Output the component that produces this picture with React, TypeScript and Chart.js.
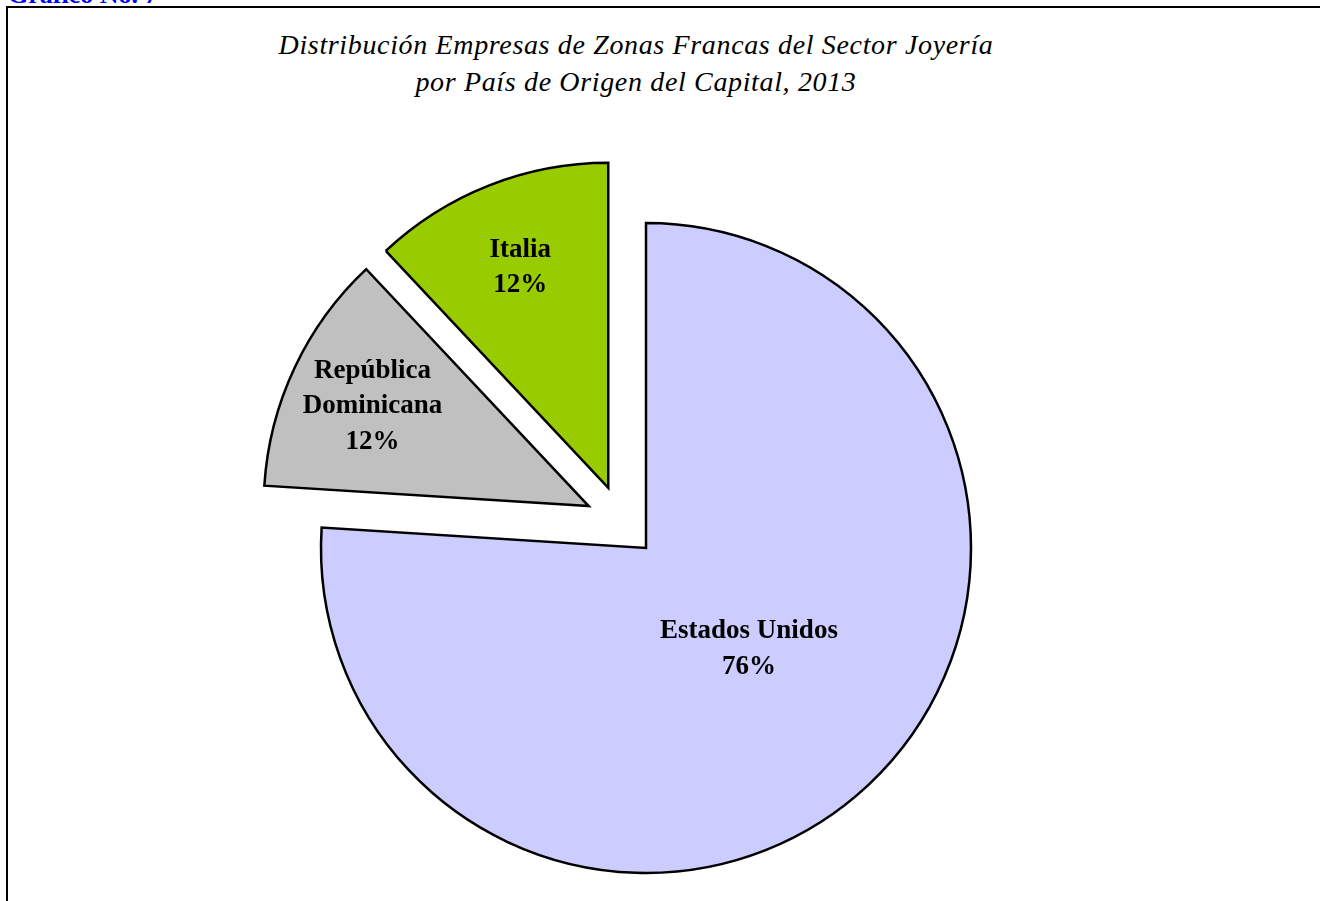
import React, { useEffect, useRef } from "react";
import { Chart, registerables } from "chart.js";

Chart.register(...registerables);

const CATEGORIES = ["Estados Unidos", "República\nDominicana", "Italia"];
const VALUES = [76, 12, 12];
const COLORS = ["#CCCCFF", "#C0C0C0", "#99CC00"];
const EXPLODE = [0, 71, 71];
const EXPLODE_SKEW_DEG = [0, 11, -10.5];
const TITLE_LINES = [
  "Distribución Empresas de Zonas Francas del Sector Joyería",
  "por País de Origen del Capital, 2013",
];
const CAPTION = "Gráfico No. 7";

const SERIF = '"Liberation Serif", "Times New Roman", serif';

const explodePlugin = {
  id: "explodeSlices",
  beforeDatasetsDraw(chart: any) {
    const ca = chart.chartArea;
    const cx = (ca.left + ca.right) / 2;
    const cy = (ca.top + ca.bottom) / 2;
    chart.data.datasets.forEach((ds: any, di: number) => {
      const meta = chart.getDatasetMeta(di);
      meta.data.forEach((arc: any, i: number) => {
        const d = (ds.explode && ds.explode[i]) || 0;
        const skew = (((ds.explodeSkew && ds.explodeSkew[i]) || 0) * Math.PI) / 180;
        const mid = (arc.startAngle + arc.endAngle) / 2 + skew;
        arc.x = cx + Math.cos(mid) * d;
        arc.y = cy + Math.sin(mid) * d;
      });
    });
  },
};

const labelPlugin = {
  id: "sliceLabels",
  afterDatasetsDraw(chart: any) {
    const ctx = chart.ctx;
    const ds = chart.data.datasets[0];
    const total = ds.data.reduce((a: number, b: number) => a + b, 0);
    const meta = chart.getDatasetMeta(0);
    const fontSize = 27;
    const lh = 35.5;
    ctx.save();
    ctx.font = `bold ${fontSize}px ${SERIF}`;
    ctx.fillStyle = "#000";
    ctx.textAlign = "center";
    ctx.textBaseline = "alphabetic";
    meta.data.forEach((arc: any, i: number) => {
      const circ = arc.endAngle - arc.startAngle;
      const big = circ > Math.PI;
      const frac = big ? 0.44 : 0.735;
      const mid = (arc.startAngle + arc.endAngle) / 2 - (big ? 0.05 : 0);
      const r = arc.outerRadius * frac;
      const x = arc.x + Math.cos(mid) * r;
      const y = arc.y + Math.sin(mid) * r;
      const pct = Math.round((ds.data[i] / total) * 100) + "%";
      const lines = String(chart.data.labels[i]).split("\n").concat([pct]);
      const n = lines.length;
      lines.forEach((t: string, k: number) => {
        const by = y + (k - (n - 1) / 2) * lh + fontSize * 0.33;
        ctx.fillText(t, x, by);
      });
    });
    ctx.restore();
  },
};

export default function App() {
  const ref = useRef<HTMLCanvasElement | null>(null);

  useEffect(() => {
    if (!ref.current) return;
    const chart = new Chart(ref.current, {
      type: "pie",
      data: {
        labels: CATEGORIES,
        datasets: [
          {
            data: VALUES,
            backgroundColor: COLORS,
            borderColor: "#000",
            borderWidth: 2.5,
            borderJoinStyle: "miter",
            explode: EXPLODE,
            explodeSkew: EXPLODE_SKEW_DEG,
          } as any,
        ],
      },
      options: {
        responsive: false,
        animation: false,
        devicePixelRatio: 1,
        radius: 325,
        layout: { padding: 0 },
        plugins: {
          legend: { display: false },
          tooltip: { enabled: false },
          title: { display: false },
        },
        events: [],
      } as any,
      plugins: [explodePlugin, labelPlugin],
    });
    return () => chart.destroy();
  }, []);

  return (
    <div
      style={{
        position: "absolute",
        left: 0,
        top: 0,
        width: 1320,
        height: 901,
        overflow: "hidden",
        background: "#fff",
      }}
    >
      <div
        style={{
          position: "absolute",
          left: 8,
          top: -18,
          fontFamily: SERIF,
          fontWeight: "bold",
          fontSize: 26,
          lineHeight: "26px",
          color: "#0000FF",
          whiteSpace: "nowrap",
        }}
      >
        {CAPTION}
      </div>
      <div
        style={{
          position: "absolute",
          left: 6,
          top: 6,
          width: 1340,
          height: 1000,
          border: "2px solid #000",
          boxSizing: "border-box",
        }}
      />
      <div
        style={{
          position: "absolute",
          left: 0,
          top: 26,
          width: 1272,
          textAlign: "center",
          fontFamily: SERIF,
          fontStyle: "italic",
          fontSize: 28,
          letterSpacing: "0.65px",
          lineHeight: "37px",
          color: "#000",
          whiteSpace: "nowrap",
        }}
      >
        {TITLE_LINES.map((t, i) => (
          <div key={i}>{t}</div>
        ))}
      </div>
      <canvas
        ref={ref}
        width={1292}
        height={1096}
        style={{ position: "absolute", left: 0, top: 0, width: 1292, height: 1096 }}
      />
    </div>
  );
}
